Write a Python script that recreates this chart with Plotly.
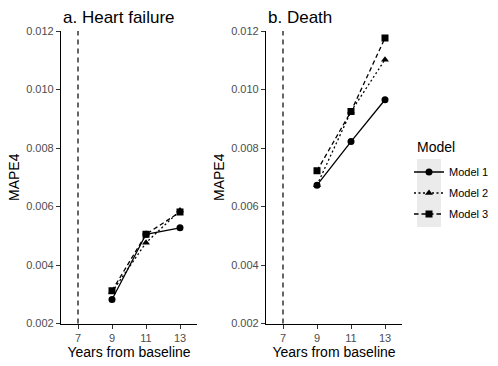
import plotly.graph_objects as go

years = [9, 11, 13]
models = ["Model 1", "Model 2", "Model 3"]

heart_failure = {
    "Model 1": [0.00282, 0.00505, 0.00527],
    "Model 2": [0.00308, 0.00476, 0.00586],
    "Model 3": [0.00312, 0.00505, 0.00581],
}
death = {
    "Model 1": [0.00673, 0.00822, 0.00965],
    "Model 2": [0.00673, 0.00925, 0.01102],
    "Model 3": [0.00722, 0.00925, 0.01176],
}
baseline_year = 7

styles = {
    "Model 1": dict(dash="solid", symbol="circle"),
    "Model 2": dict(dash="2px,2.5px", symbol="triangle-up"),
    "Model 3": dict(dash="4.5px,3px", symbol="square"),
}

FONT = "Liberation Sans, Arial, sans-serif"
H = 366
W = 498

fig = go.Figure()

# one legend per model so the rows can be spaced like the ggplot key
legend_ids = {"Model 1": "legend", "Model 2": "legend2", "Model 3": "legend3"}
legend_rows = {"legend": 172, "legend2": 193, "legend3": 214}

for panel, (data, xa, ya) in enumerate([(heart_failure, "x", "y"), (death, "x2", "y2")]):
    for m in models:
        st = styles[m]
        fig.add_trace(go.Scatter(
            x=years, y=data[m], xaxis=xa, yaxis=ya,
            mode="lines+markers", name=m, legendgroup=m,
            legend=legend_ids[m], showlegend=(panel == 0),
            line=dict(color="black", width=1.3, dash=st["dash"]),
            marker=dict(color="black", symbol=st["symbol"], size=7),
        ))

# vertical dashed line at baseline
for xr, yr in [("x", "y"), ("x2", "y2")]:
    fig.add_shape(type="line", xref=xr, yref=yr + " domain",
                  x0=baseline_year, x1=baseline_year, y0=0, y1=1,
                  line=dict(color="black", width=1.2, dash="5px,4px"))

# grey legend key background
fig.add_shape(type="rect", xref="paper", yref="paper",
              x0=417 / W, x1=441 / W, y0=1 - 227 / H, y1=1 - 159 / H,
              fillcolor="#ebebeb", line=dict(width=0), layer="below")

xaxis_common = dict(
    range=[6, 14], tickvals=[7, 9, 11, 13], showgrid=False, zeroline=False,
    showline=True, linecolor="black", linewidth=1.2, automargin=False,
    ticks="outside", ticklen=4, tickcolor="#333333",
    tickfont=dict(size=11, color="#4d4d4d", family=FONT),
    title=dict(text="Years from baseline", font=dict(size=14, color="black", family=FONT), standoff=4),
)
yaxis_common = dict(
    range=[0.002, 0.012], tickvals=[0.002, 0.004, 0.006, 0.008, 0.010, 0.012],
    tickformat=".3f", showgrid=False, zeroline=False,
    showline=True, linecolor="black", linewidth=1.2, automargin=False,
    ticks="outside", ticklen=4, tickcolor="#333333",
    tickfont=dict(size=11, color="#4d4d4d", family=FONT),
    title=dict(text="MAPE4", font=dict(size=14, color="black", family=FONT), standoff=3),
)

legend_common = dict(
    font=dict(size=11, family=FONT, color="black"),
    xanchor="left", yanchor="middle", bgcolor="rgba(0,0,0,0)",
    itemwidth=30, tracegroupgap=0,
)

ydom = [1 - 323.5 / H, 1 - 31 / H]
fig.update_layout(
    width=W, height=H,
    margin=dict(l=0, r=0, t=0, b=0, autoexpand=False),
    paper_bgcolor="white", plot_bgcolor="white",
    font=dict(family=FONT, color="black"),
    xaxis=dict(domain=[61 / W, 197 / W], anchor="y", **xaxis_common),
    yaxis=dict(domain=ydom, anchor="x", **yaxis_common),
    xaxis2=dict(domain=[266 / W, 402 / W], anchor="y2", **xaxis_common),
    yaxis2=dict(domain=ydom, anchor="x2", **yaxis_common),
    annotations=[
        dict(text="a. Heart failure", xref="paper", yref="paper", x=61 / W, y=1 - 6 / H,
             xanchor="left", yanchor="top", showarrow=False, font=dict(size=17, family=FONT)),
        dict(text="b. Death", xref="paper", yref="paper", x=266 / W, y=1 - 6 / H,
             xanchor="left", yanchor="top", showarrow=False, font=dict(size=17, family=FONT)),
        dict(text="Model", xref="paper", yref="paper", x=415 / W, y=1 - 147 / H,
             xanchor="left", yanchor="middle", showarrow=False, font=dict(size=14, family=FONT)),
    ],
)
for lid, row in legend_rows.items():
    fig.update_layout({lid: dict(x=409 / W, y=1 - row / H, **legend_common)})

fig.write_html("out.html", config={"displayModeBar": False},
               post_script="document.body.style.margin='0';")
